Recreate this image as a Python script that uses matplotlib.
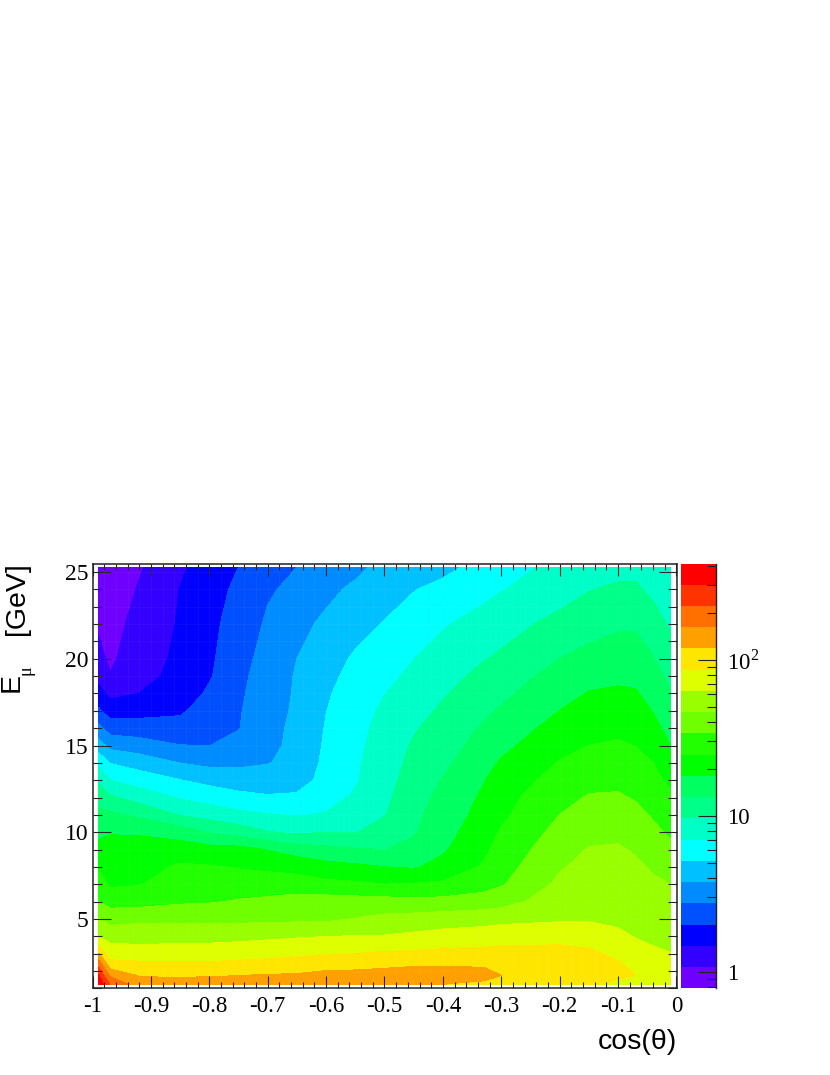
import numpy as np
import matplotlib
matplotlib.use("Agg")
import matplotlib.pyplot as plt
from matplotlib.colors import ListedColormap

plt.rcParams["font.family"] = "Liberation Serif"
plt.rcParams["mathtext.fontset"] = "custom"
plt.rcParams["mathtext.rm"] = "Liberation Serif"

W, H = 830, 1075

# bin centres
COS_THETA = [-0.99, -0.97, -0.92, -0.85, -0.80, -0.75, -0.70, -0.65, -0.60, -0.55,
             -0.50, -0.45, -0.40, -0.33, -0.30, -0.20, -0.15, -0.10, -0.07, -0.04, -0.01]
ENERGY = [1.25, 1.75, 2.5, 3.25, 4, 5, 6, 7, 8, 9, 10, 11, 12,
          13, 14, 15, 16, 17, 18, 19, 20, 22, 24, 25.25]

# height on the colour scale (in palette steps from the bottom), one list per cos(theta) column
C_099 = [19.8, 19.05, 17.35, 15.4, 13.98, 13.03, 12.0, 11.45, 10.9, 10.3, 9.75, 9.25, 8.6, 7.8, 6.73, 5.45, 4.28, 3.15, 2.35, 1.67, 1.3, 0.85, 0.65, 0.5]
C_097 = [17.9, 16.75, 15.15, 14.35, 13.6, 12.63, 11.6, 10.85, 10.56, 10.27, 9.95, 9.2, 8.16, 7.0, 5.95, 4.69, 3.53, 2.53, 1.73, 1.05, 0.8, 0.55, 0.45, 0.4]
C_092 = [16.4, 15.9, 15.07, 14.22, 13.6, 12.78, 11.6, 10.95, 10.63, 10.3, 9.92, 8.8, 7.57, 6.55, 5.55, 4.45, 3.43, 2.65, 2.0, 1.83, 1.65, 1.4, 1.07, 0.9]
C_085 = [16.35, 15.9, 15.03, 14.29, 13.63, 12.76, 11.86, 11.43, 11.13, 10.5, 9.53, 7.93, 6.9, 6.02, 4.97, 4.02, 3.36, 2.85, 2.45, 2.15, 2.15, 2.08, 2.02, 1.85]
C_080 = [16.4, 15.9, 15.03, 14.3, 13.65, 12.75, 11.92, 11.5, 11.07, 10.35, 8.93, 7.6, 6.6, 5.7, 4.75, 3.98, 3.7, 3.45, 3.15, 2.9, 2.82, 2.72, 2.6, 2.45]
C_075 = [16.5, 15.98, 15.1, 14.4, 13.7, 12.75, 12.07, 11.5, 10.93, 10.34, 8.55, 7.25, 6.3, 5.46, 4.8, 4.33, 3.95, 3.9, 3.82, 3.75, 3.65, 3.45, 3.2, 3.0]
C_070 = [16.6, 16.05, 15.2, 14.5, 13.8, 12.8, 12.2, 11.5, 10.8, 9.95, 8.05, 7.05, 6.1, 5.5, 4.95, 4.8, 4.76, 4.65, 4.55, 4.44, 4.33, 4.12, 3.9, 3.75]
C_065 = [16.7, 16.1, 15.3, 14.6, 13.9, 12.8, 12.45, 11.4, 10.7, 9.5, 7.8, 6.95, 6.15, 5.6, 5.3, 5.2, 5.17, 5.13, 5.1, 5.08, 5.0, 4.78, 4.2, 4.0]
C_060 = [16.9, 16.3, 15.45, 14.7, 13.98, 12.8, 12.45, 11.25, 10.35, 9.25, 8.0, 7.05, 6.75, 6.3, 6.22, 6.14, 6.06, 5.98, 5.9, 5.75, 5.6, 5.15, 4.8, 4.6]
C_055 = [16.85, 16.3, 15.55, 14.75, 14.03, 13.03, 12.4, 11.15, 10.2, 9.08, 7.95, 7.3, 7.1, 6.9, 6.85, 6.75, 6.62, 6.5, 6.38, 6.28, 6.12, 5.65, 5.15, 4.8]
C_050 = [16.9, 16.45, 15.6, 14.87, 14.05, 13.25, 12.35, 11.0, 10.0, 8.98, 8.4, 7.95, 7.8, 7.65, 7.55, 7.45, 7.4, 7.2, 6.97, 6.75, 6.55, 6.05, 5.6, 5.25]
C_045 = [16.95, 16.5, 15.75, 14.93, 14.2, 13.35, 12.3, 11.05, 9.9, 9.3, 8.9, 8.75, 8.55, 8.4, 8.25, 8.1, 7.9, 7.65, 7.45, 7.2, 6.98, 6.5, 5.95, 5.6]
C_040 = [16.0, 16.45, 15.8, 15.03, 14.35, 13.5, 12.3, 11.15, 10.3, 9.87, 9.65, 9.5, 9.3, 9.05, 8.8, 8.6, 8.4, 8.15, 7.9, 7.65, 7.4, 6.9, 6.3, 5.7]
C_033 = [15.8, 16.3, 15.8, 15.1, 14.5, 13.6, 12.45, 11.6, 11.1, 10.8, 10.55, 10.3, 10.15, 9.95, 9.65, 9.35, 9.1, 8.8, 8.5, 8.25, 7.95, 7.4, 6.7, 6.4]
C_030 = [15.6, 16.0, 15.6, 15.15, 14.6, 13.7, 12.6, 11.9, 11.6, 11.35, 11.1, 10.8, 10.65, 10.45, 10.1, 9.75, 9.45, 9.1, 8.8, 8.5, 8.15, 7.6, 6.95, 6.7]
C_020 = [15.5, 15.75, 15.55, 15.2, 14.6, 13.88, 13.55, 13.2, 12.9, 12.6, 12.3, 12.0, 11.7, 11.35, 11.05, 10.7, 10.35, 10.0, 9.65, 9.35, 9.0, 8.3, 7.55, 7.2]
C_015 = [15.3, 15.65, 15.45, 15.05, 14.5, 13.9, 13.7, 13.5, 13.3, 13.05, 12.75, 12.4, 12.07, 11.75, 11.3, 11.0, 10.65, 10.35, 10.05, 9.7, 9.3, 8.6, 7.95, 7.5]
C_010 = [14.7, 15.25, 15.05, 14.65, 14.15, 13.85, 13.65, 13.45, 13.3, 13.1, 12.8, 12.45, 12.1, 11.8, 11.45, 11.1, 10.8, 10.45, 10.15, 9.8, 9.5, 8.85, 8.2, 7.6]
C_007 = [14.55, 15.0, 14.7, 14.25, 13.95, 13.75, 13.5, 13.3, 13.15, 12.9, 12.55, 12.25, 11.92, 11.6, 11.25, 10.98, 10.68, 10.4, 10.08, 9.78, 9.5, 8.85, 8.15, 7.75]
C_004 = [14.3, 14.5, 14.3, 14.05, 13.85, 13.6, 13.35, 13.12, 12.9, 12.5, 12.2, 11.9, 11.6, 11.3, 11.0, 10.65, 10.3, 9.95, 9.65, 9.35, 9.05, 8.45, 7.75, 7.4]
C_001 = [14.2, 14.2, 14.15, 13.95, 13.8, 13.5, 13.3, 13.0, 12.6, 12.2, 11.85, 11.45, 11.15, 10.75, 10.35, 10.0, 9.65, 9.35, 9.05, 8.75, 8.45, 7.85, 7.35, 7.05]

# palette, bottom to top
BAND_COLORS = ["#6F00FF", "#3300FF", "#0000FF", "#0050FF", "#008CFF", "#00C0FF", "#00FFFF",
               "#00FFC8", "#00FF88", "#00FF60", "#00FF00", "#22FF00", "#6FFF00", "#99FF00",
               "#DDFF00", "#FFE600", "#FFA000", "#FF7000", "#FF3300", "#FF0000"]

LOG_MIN = -0.105   # bottom of colour scale
LOG_STEP = 0.136   # one palette step in decades

columns = [C_099, C_097, C_092, C_085, C_080, C_075, C_070, C_065, C_060, C_055,
           C_050, C_045, C_040, C_033, C_030, C_020, C_015, C_010, C_007, C_004, C_001]
log_rate = LOG_MIN + LOG_STEP * np.array(columns).T
levels = LOG_MIN + LOG_STEP * np.arange(len(BAND_COLORS) + 1)
cmap = ListedColormap(BAND_COLORS)


def box(left, top, right, bottom):
    return [left / W, 1 - bottom / H, (right - left) / W, (bottom - top) / H]


def px(n):
    return n * 72.0 / 100


fig = plt.figure(figsize=(W / 100, H / 100), dpi=100)
ax = fig.add_axes(box(92.5, 563.5, 676.5, 988.4))

cs = ax.contourf(COS_THETA, ENERGY, log_rate, levels=levels, colors=BAND_COLORS, extend="neither")
cs.set_edgecolor("face")
cs.set_linewidth(0.3)

# faint seams between the histogram cells
ax.vlines(np.arange(-0.98, -0.01, 0.02), ENERGY[0], ENERGY[-1], color="white", lw=0.5, alpha=0.06)
ax.hlines(np.arange(2, 25.5, 1), COS_THETA[0], COS_THETA[-1], color="white", lw=0.5, alpha=0.06)

ax.set_xlim(-1, 0)
ax.set_ylim(1, 25.49)
ax.set_xticks(np.arange(-1, 0.01, 0.1))
ax.set_xticks(np.arange(-1, 0.001, 0.02), minor=True)
ax.set_xticklabels(["-1", "-0.9", "-0.8", "-0.7", "-0.6", "-0.5", "-0.4", "-0.3", "-0.2", "-0.1", "0"])
ax.set_yticks([5, 10, 15, 20, 25])
ax.set_yticks(np.arange(1, 25.5, 1), minor=True)
ax.tick_params(which="major", direction="in", top=True, right=True, width=0.8, color="#222222")
ax.tick_params(which="minor", direction="in", top=True, right=True, width=0.8, color="#222222")
ax.tick_params(axis="x", which="major", length=px(12), labelsize=16.5, pad=px(8))
ax.tick_params(axis="x", which="minor", length=px(6))
ax.tick_params(axis="y", which="major", length=px(18), labelsize=17, pad=px(4))
ax.tick_params(axis="y", which="minor", length=px(9))
for s in ax.spines.values():
    s.set_linewidth(1.1)
    s.set_color("#222222")

fig.text(676.5 / W, 1 - 1049 / H, "cos(θ)", family="Liberation Sans", fontsize=20.5,
         ha="right", va="baseline", color="black")
fig.text(30 / W, 1 - 635 / H, "[GeV]", family="Liberation Sans", fontsize=20.5, rotation=90,
         ha="right", va="bottom", color="black")
fig.text(25 / W, 1 - 692 / H, "E", family="Liberation Sans", fontsize=20.5, rotation=90,
         ha="right", va="bottom", color="black")
fig.text(34 / W, 1 - 675 / H, "μ", family="Liberation Serif", fontsize=13, rotation=90,
         ha="right", va="bottom", color="black")

# colour scale
cax = fig.add_axes(box(681, 563.5, 715.5, 988.4))
edges = 10.0 ** levels
cax.pcolormesh([0, 1], edges, np.arange(len(BAND_COLORS)).reshape(-1, 1), cmap=cmap, shading="flat")
cax.set_yscale("log")
cax.set_ylim(edges[0], edges[-1])
cax.set_xlim(0, 1)
cax.set_xticks([])
cax.yaxis.tick_right()
cax.set_yticks([1, 10, 100])
cax.set_yticklabels(["1", "10", "10$^{2}$"])
cax.set_yticks([0.8, 0.9, 2, 3, 4, 5, 6, 7, 8, 9, 20, 30, 40, 50, 60, 70, 80, 90, 200, 300, 400], minor=True)
cax.set_yticklabels([], minor=True)
cax.tick_params(axis="y", which="major", direction="in", length=px(18), width=0.8, labelsize=16.5, pad=px(11.5), color="#222222")
cax.tick_params(axis="y", which="minor", direction="in", length=px(9), width=0.8, color="#222222")
for name, s in cax.spines.items():
    s.set_visible(name == "right")
    s.set_linewidth(1.0)
    s.set_color("#222222")

fig.savefig("out.png", dpi=100)
